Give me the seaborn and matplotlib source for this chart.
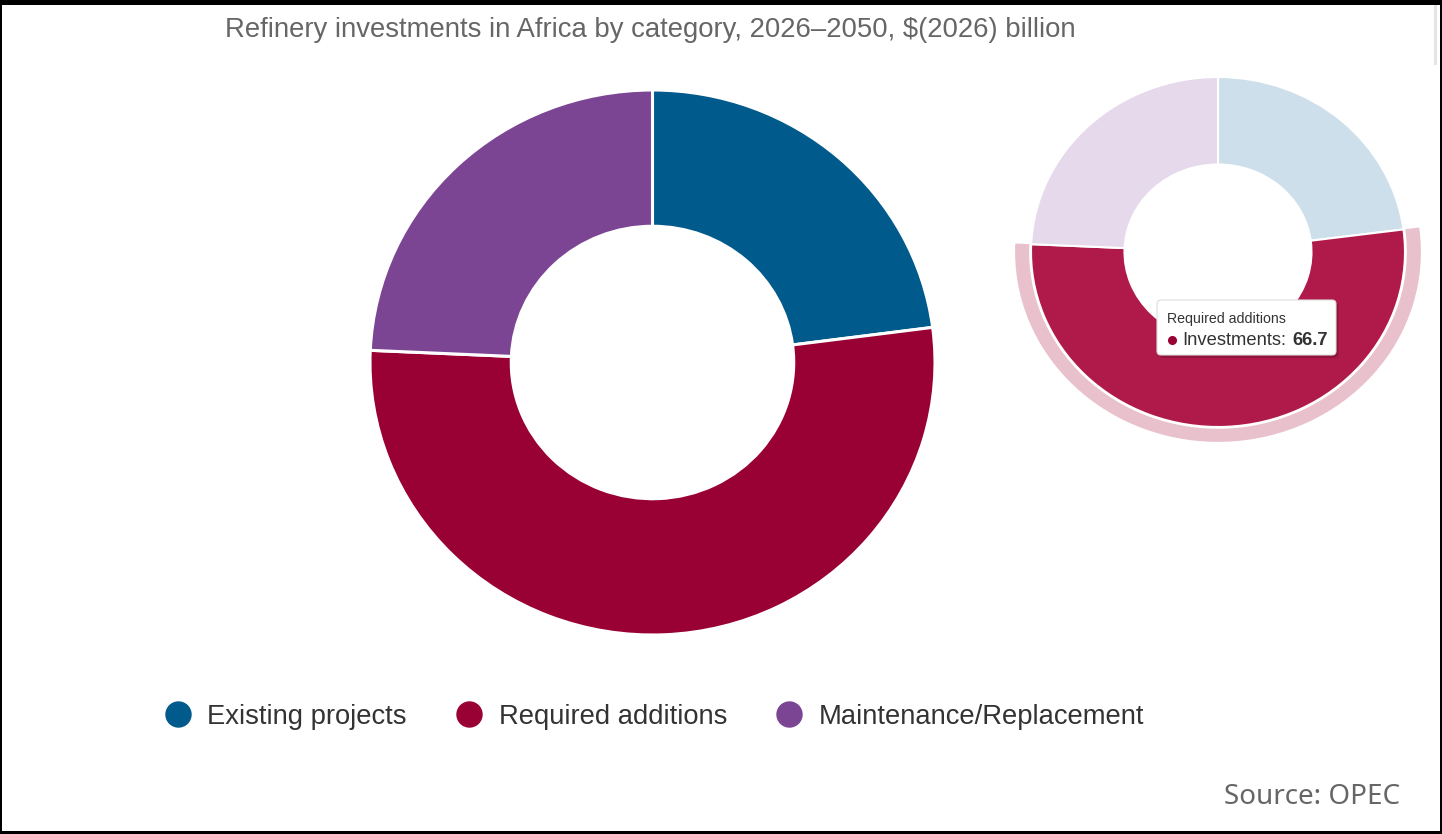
import matplotlib
matplotlib.use("Agg")
import matplotlib.pyplot as plt
import seaborn as sns
from matplotlib.lines import Line2D
from matplotlib.patches import Rectangle, FancyBboxPatch

# data (Required additions is given by the tooltip)
categories = ["Existing projects", "Required additions", "Maintenance/Replacement"]
investments = [29.0, 66.7, 30.7]
hovered = 1

colors = ["#015a8c", "#990033", "#7b4594"]
faded = ["#cddfea", "#b01a4a", "#e5d9eb"]
halo = ["none", "#e8c1cd", "none"]

sns.set_theme(style="white")
plt.rcParams['font.family'] = ['Liberation Sans', 'DejaVu Sans']

W, H = 1442, 834
fig = plt.figure(figsize=(W / 100, H / 100), dpi=100)
fig.patch.set_facecolor("white")


def box(l, t, r, b):
    return [l / W, 1 - b / H, (r - l) / W, (b - t) / H]


# main donut
ax = fig.add_axes(box(370, 90, 935, 635))
ax.pie(investments, colors=colors, startangle=90, counterclock=False, radius=1,
       wedgeprops=dict(width=0.5, edgecolor="white", linewidth=2.2))
ax.set_aspect("auto")
ax.set_xlim(-1, 1)
ax.set_ylim(-1, 1)
ax.axis("off")

# second donut (hover state)
cx, cy, rx, ry = 1218, 252, 187, 175
ax2 = fig.add_axes(box(cx - 1.1 * rx, cy - 1.1 * ry, cx + 1.1 * rx, cy + 1.1 * ry))
ax2.pie(investments, colors=faded, startangle=90, counterclock=False, radius=1,
        wedgeprops=dict(width=0.5, edgecolor="white", linewidth=1.5))
ax2.pie(investments, colors=halo, startangle=90, counterclock=False, radius=1.085,
        wedgeprops=dict(width=0.075, edgecolor="none"))
ax2.set_aspect("auto")
ax2.set_xlim(-1.1, 1.1)
ax2.set_ylim(-1.1, 1.1)
ax2.axis("off")

# overlay in pixel coords for tooltip and frame
ov = fig.add_axes([0, 0, 1, 1], zorder=10)
ov.set_xlim(0, W)
ov.set_ylim(H, 0)
ov.axis("off")

ov.add_patch(FancyBboxPatch((1159.5, 303), 179, 55, boxstyle="round,pad=0,rounding_size=4",
                            facecolor="black", edgecolor="none", alpha=0.18))
ov.add_patch(FancyBboxPatch((1157, 300), 179, 55, boxstyle="round,pad=0,rounding_size=4",
                            facecolor="white", edgecolor="#dddddd", linewidth=0.8))
ov.text(1167, 319, categories[hovered], fontsize=10.2, color="#333333", va="center", ha="left")
ov.plot([1172], [340], marker="o", markersize=5.5, color=colors[hovered], linestyle="none")
ov.text(1182, 340, "Investments:", fontsize=13.2, color="#333333", va="center", ha="left")
ov.text(1292, 340, f"{investments[hovered]:.1f}", fontsize=13.2, color="#333333",
        va="center", ha="left", fontweight="bold")

# screenshot frame
for r in [(0, 0, W, 5), (0, 0, 2, H), (0, H - 3, W, 3), (W - 2, 0, 2, H)]:
    ov.add_patch(Rectangle(r[:2], r[2], r[3], facecolor="black", edgecolor="none"))
ov.add_patch(Rectangle((1434, 5), 3, 60, facecolor="#e4e4e4", edgecolor="none"))

# subtitle
fig.text(225 / W, 1 - 30 / H, "Refinery investments in Africa by category, 2026\u20132050, $(2026) billion",
         ha="left", va="center", fontsize=19.8, color="#666666")

# legend
handles = [Line2D([0], [0], marker="o", linestyle="none", markersize=18,
                  markerfacecolor=c, markeredgecolor=c) for c in colors]
fig.legend(handles, categories, loc="center left", bbox_to_anchor=(164 / W, 1 - 717 / H),
           ncol=3, frameon=False, fontsize=19.7, handlelength=1.0, handletextpad=0.58,
           columnspacing=1.78, borderpad=0, borderaxespad=0, labelcolor="#333333")

fig.text(1400 / W, 1 - 797 / H, "Source: OPEC", ha="right", va="center", fontsize=20,
         color="#666666", family=["Noto Sans", "DejaVu Sans"])

fig.savefig("out.png", dpi=100)
